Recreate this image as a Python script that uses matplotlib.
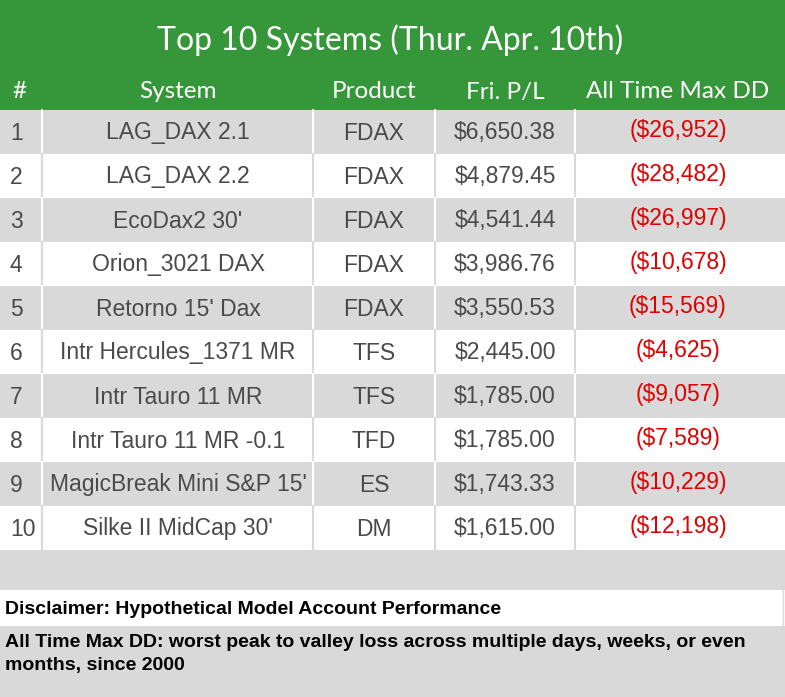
import matplotlib
matplotlib.use("Agg")
import matplotlib.pyplot as plt
from matplotlib.patches import Rectangle

title = "Top 10 Systems (Thur. Apr. 10th)"
headers = ["#", "System", "Product", "Fri. P/L", "All Time Max DD"]
ranks = [1, 2, 3, 4, 5, 6, 7, 8, 9, 10]
systems = ["LAG_DAX 2.1", "LAG_DAX 2.2", "EcoDax2 30'", "Orion_3021 DAX", "Retorno 15' Dax",
           "Intr Hercules_1371 MR", "Intr Tauro 11 MR", "Intr Tauro 11 MR -0.1",
           "MagicBreak Mini S&P 15'", "Silke II MidCap 30'"]
products = ["FDAX", "FDAX", "FDAX", "FDAX", "FDAX", "TFS", "TFS", "TFD", "ES", "DM"]
fri_pl = [6650.38, 4879.45, 4541.44, 3986.76, 3550.53, 2445.00, 1785.00, 1785.00, 1743.33, 1615.00]
max_dd = [26952, 28482, 26997, 10678, 15569, 4625, 9057, 7589, 10229, 12198]
disclaimer1 = "Disclaimer: Hypothetical Model Account Performance"
disclaimer2 = ("All Time Max DD: worst peak to valley loss across multiple days, weeks, or even\n"
               "months, since 2000")

W, H = 785, 697
green = "#36963a"
gray = "#d9d9d9"
txt = "#4a4a4a"
red = "#e00000"
fig = plt.figure(figsize=(W/100, H/100), dpi=100)
ax = fig.add_axes([0, 0, 1, 1])
ax.set_xlim(0, W); ax.set_ylim(H, 0); ax.axis("off")

ax.add_patch(Rectangle((0, 0), W, 110, color=green, lw=0))
ax.text(W/2 - 2, 40, title, color="white", fontsize=23, family="Lato", ha="center", va="center")
col_x = [42, 313, 435, 575]
centers = [None, 178, 374, 505, 678]
ax.text(12, 92, headers[0], color="white", fontsize=17.5, family="Lato", ha="left", va="center")
for h, cx in zip(headers[1:], centers[1:]):
    ax.text(cx, 92, h, color="white", fontsize=17.5, family="Lato", ha="center", va="center")

top, rh = 110, 44
for i, r in enumerate(ranks):
    y0 = top + i*rh
    fc = gray if i % 2 == 0 else "white"
    ax.add_patch(Rectangle((0, y0), W, rh, color=fc, lw=0))
    lc = "white" if i % 2 == 0 else gray
    for x in col_x:
        ax.plot([x, x], [y0, y0+rh], color=lc, lw=1.5)
    yc = y0 + rh/2 + 1
    f = dict(fontsize=16.5, family="Liberation Sans", va="center")
    ax.text(10, yc, str(r), color=txt, ha="left", **f)
    ax.text(centers[1], yc, systems[i], color=txt, ha="center", **f)
    ax.text(centers[2], yc, products[i], color=txt, ha="center", **f)
    ax.text(centers[3], yc, f"${fri_pl[i]:,.2f}", color=txt, ha="center", **f)
    ax.text(centers[4], yc - 2, f"(${max_dd[i]:,})", color=red, ha="center", **f)

ax.add_patch(Rectangle((0, 550), W, 40, color=gray, lw=0))
ax.add_patch(Rectangle((0, 590), W, 36, color="white", lw=0))
ax.add_patch(Rectangle((0, 626), W, 71, color=gray, lw=0))
ax.plot([783, 783], [590, 626], color=gray, lw=1)
ax.text(5, 609, disclaimer1, fontsize=14, weight="bold", family="Liberation Sans", va="center", color="black")
ax.text(5, 654, disclaimer2, fontsize=14, weight="bold", family="Liberation Sans", va="center",
        color="black", linespacing=1.4)
fig.savefig("out.png", dpi=100)
